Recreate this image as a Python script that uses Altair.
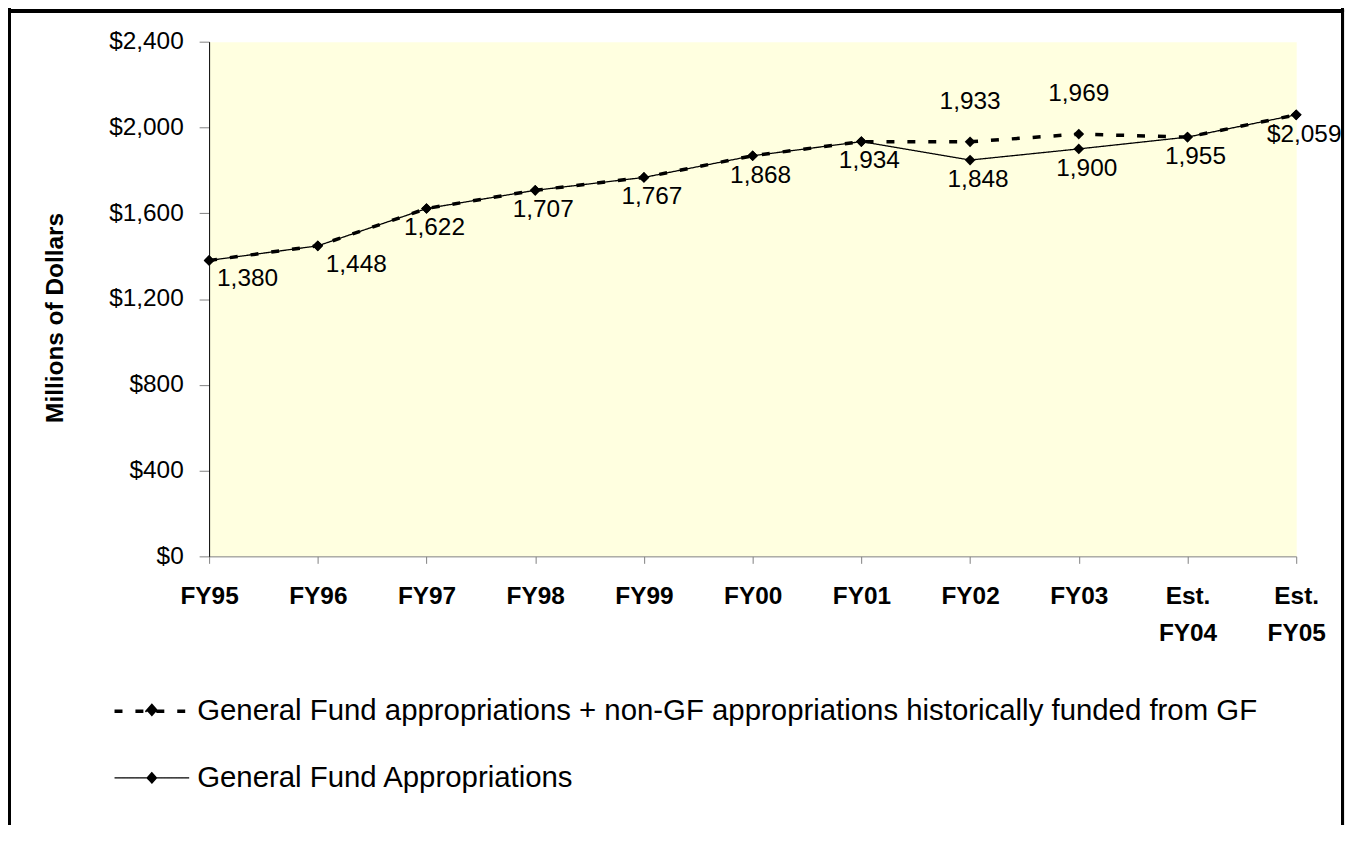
import json
import altair as alt
import pandas as pd

# ---- data ----
categories = ["FY95", "FY96", "FY97", "FY98", "FY99", "FY00", "FY01",
              "FY02", "FY03", "Est. FY04", "Est. FY05"]
gf_appropriations = [1380, 1448, 1622, 1707, 1767, 1868, 1934, 1848, 1900, 1955, 2059]
gf_plus_non_gf = [1380, 1448, 1622, 1707, 1767, 1868, 1934, 1933, 1969, 1955, 2059]
gf_label_text = ["1,380", "1,448", "1,622", "1,707", "1,767", "1,868", "1,934",
                 "1,848", "1,900", "1,955", "$2,059"]
total_label_text = ["", "", "", "", "", "", "", "1,933", "1,969", "", ""]
series_names = [
    "General Fund appropriations + non-GF appropriations historically funded from GF",
    "General Fund Appropriations",
]
y_ticks = [0, 400, 800, 1200, 1600, 2000, 2400]

# label placement style (left-anchored for the first two points)
gf_label_align = ["left", "left"] + ["center"] * 9

FONT = "Liberation Sans"
W, H = 1092, 517

rows = []
for i, c in enumerate(categories):
    rows.append({"idx": i, "category": c, "series": series_names[0], "value": gf_plus_non_gf[i]})
    rows.append({"idx": i, "category": c, "series": series_names[1], "value": gf_appropriations[i]})
df = pd.DataFrame(rows)

gf_lab = pd.DataFrame({"idx": range(len(categories)), "value": gf_appropriations,
                       "text": gf_label_text, "align": gf_label_align})
tot_lab = pd.DataFrame({"idx": range(len(categories)), "value": gf_plus_non_gf,
                        "text": total_label_text})
tot_lab = tot_lab[tot_lab["text"] != ""]

label_expr = json.dumps([c.split(" ") for c in categories]) + "[datum.value]"

x_enc = alt.X("idx:Q",
              scale=alt.Scale(domain=[0, len(categories) - 1], nice=False, zero=False),
              axis=alt.Axis(values=list(range(len(categories))), labelExpr=label_expr,
                            title=None, grid=False, tickSize=7, tickColor="#808080",
                            domainColor="#808080", labelFont=FONT, labelFontSize=24.5,
                            labelFontWeight="bold", labelColor="black", labelPadding=21,
                            labelLineHeight=38, labelOverlap=False, labelFlush=False,
                            labelBaseline="top"))
y_enc = alt.Y("value:Q",
              scale=alt.Scale(domain=[0, 2400], nice=False),
              axis=alt.Axis(values=y_ticks, format="$,.0f", title="Millions of Dollars",
                            titleFont=FONT, titleFontSize=24.5, titleFontWeight="bold",
                            titleColor="black", titleX=-147, titleY=277, titleAngle=270,
                            titleBaseline="alphabetic", titleAlign="center",
                            grid=False, tickSize=10, tickColor="#808080",
                            domainColor="black", labelFont=FONT, labelFontSize=24.5,
                            labelColor="black", labelPadding=16))

legend_symbol = "M-1,0L1,0M0,-0.14L0.125,0L0,0.14L-0.125,0Z"
legend = alt.Legend(title=None, orient="none", legendX=-97, legendY=633,
                    direction="vertical", symbolType=legend_symbol, symbolSize=5625,
                    symbolFillColor="black", symbolStrokeColor="black",
                    labelFont=FONT, labelFontSize=29.5, labelColor="black",
                    labelLimit=2000, labelOffset=6, rowPadding=14, padding=0)

base = alt.Chart(df)
lines = base.mark_line(color="black").encode(
    x=x_enc, y=y_enc,
    strokeDash=alt.StrokeDash("series:N",
                              scale=alt.Scale(domain=series_names, range=[[8, 13], [1, 0]]),
                              legend=legend),
    strokeWidth=alt.StrokeWidth("series:N",
                                scale=alt.Scale(domain=series_names, range=[3.5, 1.3]),
                                legend=legend),
)
points = base.mark_point(shape="diamond", filled=True, size=115, color="black", opacity=1).encode(
    x="idx:Q", y="value:Q", detail="series:N")

below_left = alt.Chart(gf_lab).transform_filter(alt.datum.align == "left").mark_text(
    align="left", baseline="middle", dx=8, dy=19, font=FONT, fontSize=24.5, color="black"
).encode(x="idx:Q", y="value:Q", text="text:N")
below_center = alt.Chart(gf_lab).transform_filter(alt.datum.align == "center").mark_text(
    align="center", baseline="middle", dx=8, dy=20, font=FONT, fontSize=24.5, color="black"
).encode(x="idx:Q", y="value:Q", text="text:N")
above = alt.Chart(tot_lab).mark_text(
    align="center", baseline="middle", dx=0, dy=-40, font=FONT, fontSize=24.5, color="black"
).encode(x="idx:Q", y="value:Q", text="text:N")

# chart-area frame (left, top, right edges)
frame_l = alt.Chart(df).mark_rule(color="black", strokeWidth=3).encode(
    x=alt.value(-200.5), y=alt.value(-33), y2=alt.value(800))
frame_r = alt.Chart(df).mark_rule(color="black", strokeWidth=3).encode(
    x=alt.value(1138.5), y=alt.value(-33), y2=alt.value(800))
frame_t = alt.Chart(df).mark_rule(color="black", strokeWidth=3).encode(
    x=alt.value(-202), x2=alt.value(1140), y=alt.value(-30.5))

chart = alt.layer(lines, points, below_left, below_center, above, frame_l, frame_r, frame_t).properties(
    width=W, height=H,
    autosize=alt.AutoSizeParams(type="none"),
    padding={"left": 202, "top": 32, "right": 49, "bottom": 268},
    background="white",
).configure_view(fill="#FFFFE0", stroke="transparent")

chart.save("out.html", embed_options={"renderer": "svg", "actions": False})
